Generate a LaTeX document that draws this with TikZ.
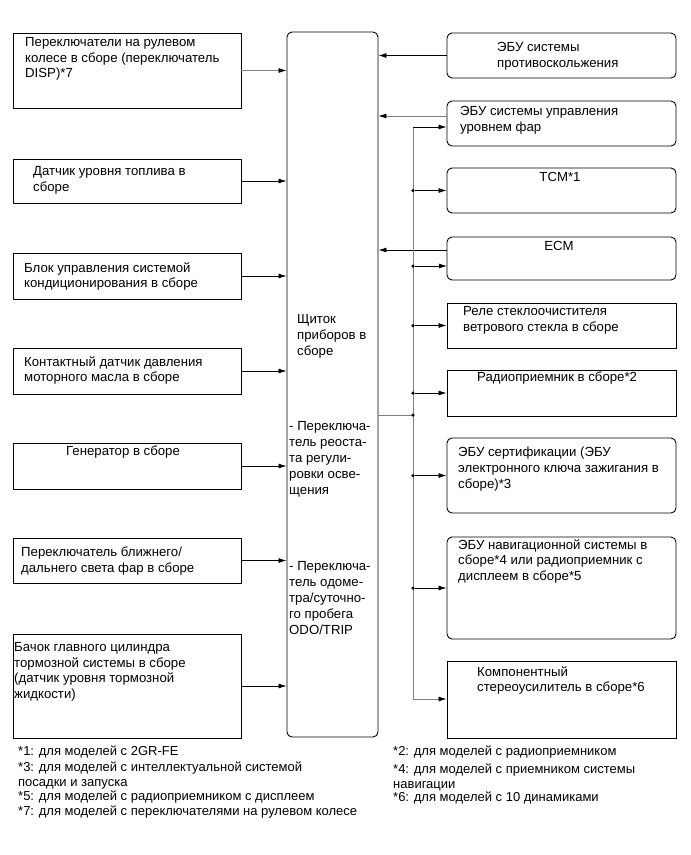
\documentclass[tikz,border=0pt]{standalone}
\usepackage{fontspec}
\setmainfont{Liberation Sans}
\usetikzlibrary{arrows.meta}
\definecolor{lgray}{RGB}{128,128,128}
\begin{document}
\begin{tikzpicture}[x=1pt,y=-1pt,
  box/.style={draw,line width=0.9pt,inner sep=0pt,minimum width=228pt},
  rbox/.style={box,rounded corners=5pt,minimum width=229pt},
  sbox/.style={box,minimum width=229pt},
  txt/.style={anchor=north west,inner sep=0pt,align=left,font=\fontsize{13.2}{15.8}\selectfont},
  ctxt/.style={anchor=north,inner sep=0pt,align=center,font=\fontsize{13.2}{15.8}\selectfont},
  ftxt/.style={anchor=north west,inner sep=0pt,align=left,font=\fontsize{13}{14.5}\selectfont},
  arr/.style={-{Latex[length=8pt,width=5pt,color=black]},line width=0.8pt},
  garr/.style={arr,draw=lgray},
  bus/.style={draw=lgray,line width=0.8pt},
  dot/.style={circle,fill,inner sep=0pt,minimum size=3.5pt}
]
\useasboundingbox (0,0) rectangle (691,855);
% left boxes
\node[box,minimum height=75pt] (L1) at (127,70.5) {};
\node[box,minimum height=44pt] (L2) at (127,181) {};
\node[box,minimum height=46pt] (L3) at (127,276) {};
\node[box,minimum height=46pt] (L4) at (127,371) {};
\node[box,minimum height=46pt] (L5) at (127,466) {};
\node[box,minimum height=45pt] (L6) at (127,560.5) {};
\node[box,minimum height=104pt] (L7) at (127,686) {};
% centre
\node[box,rounded corners=5pt,minimum width=91pt,minimum height=705pt] (C) at (332.5,384.5) {};
% right boxes
\node[rbox,minimum height=45pt] (R1) at (561.5,55.5) {};
\node[rbox,minimum height=45pt] (R2) at (561.5,123.5) {};
\node[rbox,minimum height=45pt] (R3) at (561.5,190.5) {};
\node[rbox,minimum height=43pt] (R4) at (561.5,258.5) {};
\node[sbox,minimum height=45pt] (R5) at (561.5,325.5) {};
\node[sbox,minimum height=46pt] (R6) at (561.5,393) {};
\node[rbox,minimum height=75pt] (R7) at (561.5,475.5) {};
\node[rbox,minimum height=102pt] (R8) at (561.5,588) {};
\node[sbox,minimum height=77pt] (R9) at (561.5,699.5) {};
% texts left
\node[txt] (tL1) at (25,37) {Переключатели на рулевом\\колесе в сборе (переключатель\\DISP)*7};
\node[txt] (tL2) at (33,166) {Датчик уровня топлива в\\сборе};
\node[txt] (tL3) at (24,262) {Блок управления системой\\кондиционирования в сборе};
\node[txt] (tL4) at (24,356) {Контактный датчик давления\\моторного масла в сборе};
\node[txt] (tL5) at (66,446) {Генератор в сборе};
\node[txt] (tL6) at (21,547) {Переключатель ближнего/\\дальнего света фар в сборе};
\node[txt] (tL7) at (14,642) {Бачок главного цилиндра\\тормозной системы в сборе\\(датчик уровня тормозной\\жидкости)};
% centre texts
\node[txt,font=\fontsize{13.2}{16}\selectfont] (tC1) at (297,314) {Щиток\\приборов в\\сборе};
\node[txt,font=\fontsize{13.2}{16}\selectfont] (tC2) at (289,421) {- Переключа-\\тель реоста-\\та регули-\\ровки осве-\\щения};
\node[txt,font=\fontsize{13.2}{16}\selectfont] (tC3) at (289,561) {- Переключа-\\тель одоме-\\тра/суточно-\\го пробега\\ODO/TRIP};
% right texts
\node[txt] (tR1) at (497,42) {ЭБУ системы\\противоскольжения};
\node[txt] (tR2) at (460,106) {ЭБУ системы управления\\уровнем фар};
\node[ctxt] (tR3) at (560,172) {TCM*1};
\node[ctxt] (tR4) at (559,241) {ECM};
\node[txt] (tR5) at (463,306) {Реле стеклоочистителя\\ветрового стекла в сборе};
\node[txt] (tR6) at (477,372) {Радиоприемник в сборе*2};
\node[txt] (tR7) at (458,447) {ЭБУ сертификации (ЭБУ\\электронного ключа зажигания в\\сборе)*3};
\node[txt] (tR8) at (458,539) {ЭБУ навигационной системы в\\сборе*4 или радиоприемник с\\дисплеем в сборе*5};
\node[txt] (tR9) at (477,666) {Компонентный\\стереоусилитель в сборе*6};
% footnotes
\node[ftxt] (f1) at (18,746) {*1: для моделей с 2GR-FE};
\node[ftxt] (f3) at (18,762) {*3: для моделей с интеллектуальной системой\\посадки и запуска};
\node[ftxt] (f5) at (18,791) {*5: для моделей с радиоприемником с дисплеем};
\node[ftxt] (f7) at (18,806) {*7: для моделей с переключателями на рулевом колесе};
\node[ftxt] (f2) at (393,746) {*2: для моделей с радиоприемником};
\node[ftxt] (f4) at (393,764) {*4: для моделей с приемником системы\\навигации};
\node[ftxt] (f6) at (393,792) {*6: для моделей с 10 динамиками};
% left connectors
\draw[garr] (L1.east) -- (C.west |- L1.east);
\foreach \n in {L2,L3,L4,L5,L6,L7} \draw[arr] (\n.east) -- (C.west |- \n.east);
% right to centre
\coordinate (r2o) at (447,116);
\coordinate (r4o) at (447,250);
\draw[arr] (R1.west) -- (C.east |- R1.west);
\draw[garr] (r2o) -- (C.east |- r2o);
\draw[arr] (r4o) -- (C.east |- r4o);
% bus
\coordinate (bt) at (413,127);
\coordinate (bb) at (413,699);
\coordinate (bj) at (413,415);
\coordinate (r4i) at (447,266);
\draw[bus] (bt) -- (bb);
\draw[bus] (C.east |- bj) -- (bj);
\node[dot] (dj) at (bj) {};
\draw[arr] (bt) -- (R2.west |- bt);
\draw[garr] (bb) -- (R9.west |- bb);
\node[dot] (d4) at (bt |- r4i) {};
\draw[arr] (d4) -- (r4i);
\foreach \n in {R3,R5,R6,R7,R8} {
  \node[dot] (d\n) at (bt |- \n.west) {};
  \draw[arr] (d\n) -- (\n.west);
}
\end{tikzpicture}
\end{document}
